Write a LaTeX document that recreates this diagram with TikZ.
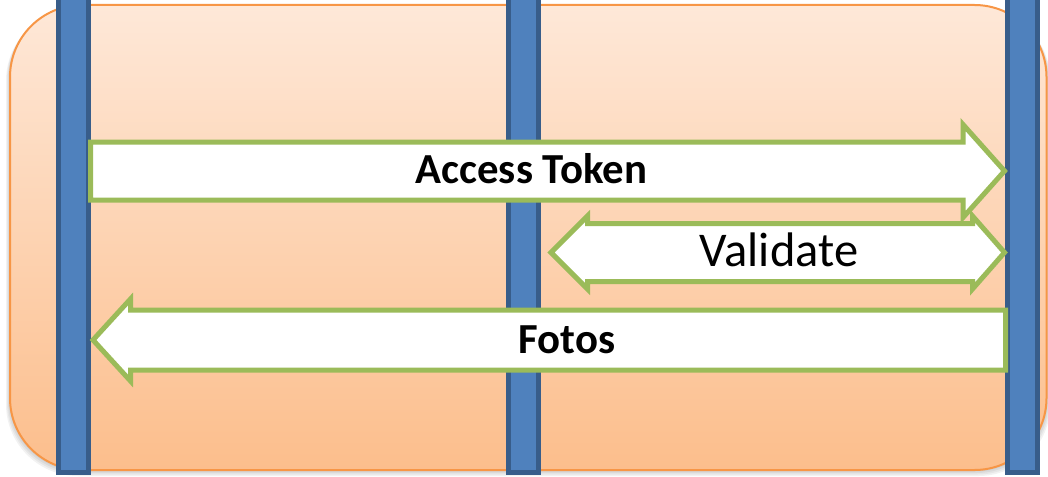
\documentclass[tikz,border=0pt]{standalone}
\usepackage{fontspec}
\setmainfont{Carlito}
\definecolor{paneltop}{RGB}{254,232,216}
\definecolor{panelbot}{RGB}{252,190,140}
\definecolor{panelline}{RGB}{247,150,70}
\definecolor{barfill}{RGB}{79,129,189}
\definecolor{barline}{RGB}{56,93,138}
\definecolor{msgline}{RGB}{155,187,89}
\begin{document}
\begin{tikzpicture}[x=1pt,y=-1pt,
  panel/.style={draw=panelline, line width=2pt, rounded corners=72pt,
    top color=paneltop, bottom color=panelbot},
  glow/.style={fill=black, fill opacity=0.05, rounded corners=72pt},
  lifeline/.style={draw=barline, fill=barfill, line width=5pt,
    minimum width=30pt, minimum height=487.5pt, inner sep=0pt, outer sep=0pt},
  msg/.style={draw=msgline, fill=white, line width=5pt, line join=miter},
  boldlbl/.style={font=\fontsize{42.8}{50}\selectfont\bfseries, inner sep=0pt, anchor=base},
  plainlbl/.style={font=\fontsize{48.5}{56}\selectfont, inner sep=0pt, anchor=base}]
\useasboundingbox (0,0) rectangle (1048,476);

% soft shadow under the frame
\foreach \g in {1,2,3,4}
  \path[glow] (10-\g,5+\g) rectangle (1046.5+\g,470+1.5*\g);

% frame
\path[panel] (10,5) rectangle (1046.5,470);

% lifelines
\node[lifeline] (client) at (73.5,228.75) {};
\node[lifeline] (app)    at (523.5,228.75) {};
\node[lifeline] (server) at (1022.5,228.75) {};

% messages
\draw[msg] (90.5,142) -- (963,142) -- (963,124.5) -- (1004.5,171)
  -- (963,217.5) -- (963,200) -- (90.5,200) -- cycle;
\draw[msg] (551,252.5) -- (587.5,216) -- (587.5,223.5) -- (972.5,223.5)
  -- (972.5,216) -- (1004.5,252.5) -- (972.5,289) -- (972.5,281.5)
  -- (587.5,281.5) -- (587.5,289) -- cycle;
\draw[msg] (93,340) -- (130.5,299) -- (130.5,310) -- (1005.5,310)
  -- (1005.5,370) -- (130.5,370) -- (130.5,381) -- cycle;

% labels
\node[boldlbl]  (tok)   at (531.5,183.5) {Access Token};
\node[plainlbl] (check) at (779,266.7)   {Validate};
\node[boldlbl]  (pics)  at (567,353.3)   {Fotos};
\end{tikzpicture}
\end{document}
